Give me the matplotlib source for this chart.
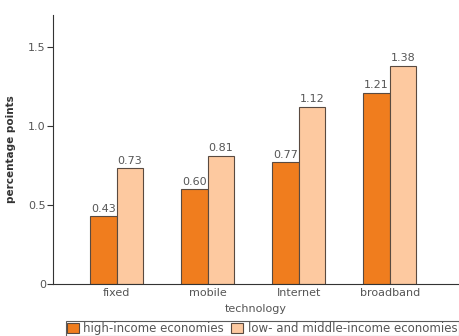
import matplotlib
matplotlib.use("Agg")
import matplotlib.pyplot as plt
import numpy as np

plt.rcParams['font.family'] = ['DejaVu Sans']

categories = ["fixed", "mobile", "Internet", "broadband"]
high_income = [0.43, 0.60, 0.77, 1.21]
low_middle = [0.73, 0.81, 1.12, 1.38]
high_labels = ["0.43", "0.60", "0.77", "1.21"]
low_labels = ["0.73", "0.81", "1.12", "1.38"]
yticks = [0, 0.5, 1.0, 1.5]
ytick_labels = ["0", "0.5", "1.0", "1.5"]

c_high = "#F07D1E"
c_low = "#FDC9A0"
edge = "#5a4a40"
grey = "#555555"

fig = plt.figure(figsize=(4.59, 3.36), dpi=100)
ax = fig.add_axes([0.115, 0.155, 0.885, 0.80])

x = np.arange(len(categories))
w = 0.29
b1 = ax.bar(x - w/2, high_income, w, color=c_high, edgecolor=edge, linewidth=0.8,
            label="high-income economies")
b2 = ax.bar(x + w/2, low_middle, w, color=c_low, edgecolor=edge, linewidth=0.8,
            label="low- and middle-income economies")
for rect, lab in zip(b1, high_labels):
    ax.text(rect.get_x() + rect.get_width()/2, rect.get_height() + 0.015, lab,
            ha="center", va="bottom", fontsize=8, color=grey)
for rect, lab in zip(b2, low_labels):
    ax.text(rect.get_x() + rect.get_width()/2, rect.get_height() + 0.015, lab,
            ha="center", va="bottom", fontsize=8, color=grey)

ax.set_xlim(-0.70, 3.76)
ax.set_ylim(0, 1.70)
ax.set_yticks(yticks)
ax.set_yticklabels(ytick_labels)
ax.set_xticks(x)
ax.set_xticklabels(categories)
ax.tick_params(axis="y", direction="out", length=4, labelsize=8, labelcolor=grey, color="#333333", pad=1)
ax.tick_params(axis="x", length=0, labelsize=8, labelcolor=grey, pad=3)
for s in ["top", "right"]:
    ax.spines[s].set_visible(False)
ax.spines["left"].set_color("#333333")
ax.spines["bottom"].set_color("#333333")
ax.set_ylabel("percentage points", fontsize=7.5, fontweight="bold", color="#333333", labelpad=9)
ax.set_xlabel("technology", fontsize=8, color=grey, labelpad=4)

leg = fig.legend(loc="lower right", bbox_to_anchor=(0.999, 0.0), ncol=2, fontsize=8.5,
                 frameon=True, fancybox=False, edgecolor="#333333", handlelength=1.0,
                 handleheight=0.9, handletextpad=0.4, columnspacing=0.6, borderpad=0.1,
                 borderaxespad=0.0)
for t in leg.get_texts():
    t.set_color(grey)
leg.get_frame().set_linewidth(0.8)

fig.savefig("out.png", dpi=100)
